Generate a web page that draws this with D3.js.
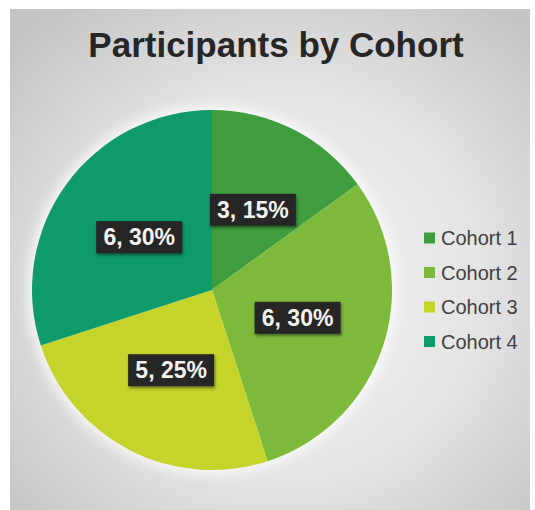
<!DOCTYPE html>
<html>
<head>
<meta charset="utf-8">
<script src="https://cdn.jsdelivr.net/npm/d3@7"></script>
<style>
  body { margin: 0; background: #fff; }
  svg { display: block; }
</style>
</head>
<body>
<svg width="535" height="510"></svg>
<script>
// data
const cohorts = ["Cohort 1", "Cohort 2", "Cohort 3", "Cohort 4"];
const participants = [3, 6, 5, 6];
const colors = ["#3f9d3f", "#7db93b", "#c4d42b", "#0f9a6c"];

const svg = d3.select("svg");
const defs = svg.append("defs");

// background panel gradient
const bg = defs.append("radialGradient")
  .attr("id", "bg")
  .attr("cx", "52%").attr("cy", "55%").attr("r", "70%");
bg.append("stop").attr("offset", "0%").attr("stop-color", "#f6f6f6");
bg.append("stop").attr("offset", "55%").attr("stop-color", "#e4e4e4");
bg.append("stop").attr("offset", "100%").attr("stop-color", "#c4c4c4");

const glow = defs.append("filter").attr("id", "glow")
  .attr("x", "-20%").attr("y", "-20%").attr("width", "140%").attr("height", "140%");
glow.append("feGaussianBlur").attr("stdDeviation", 6);

const shadow = defs.append("filter").attr("id", "shadow")
  .attr("x", "-20%").attr("y", "-20%").attr("width", "140%").attr("height", "150%");
shadow.append("feDropShadow").attr("dx", 1).attr("dy", 2).attr("stdDeviation", 1.5)
  .attr("flood-color", "#000").attr("flood-opacity", 0.45);

svg.append("rect")
  .attr("x", 10).attr("y", 9)
  .attr("width", 520).attr("height", 505)
  .attr("fill", "url(#bg)");

// title
svg.append("text")
  .attr("x", 276).attr("y", 57)
  .attr("text-anchor", "middle")
  .attr("font-family", "Liberation Sans, Arial, sans-serif")
  .attr("font-weight", "bold")
  .attr("font-size", 35)
  .attr("fill", "#262626")
  .text("Participants by Cohort");

// pie
const cx = 212, cy = 290, radius = 180;
const total = d3.sum(participants);

const pie = d3.pie().sort(null).value(d => d.value);
const arcs = pie(cohorts.map((c, i) => ({ name: c, value: participants[i], color: colors[i] })));
const arc = d3.arc().innerRadius(0).outerRadius(radius);
const labelArc = d3.arc().innerRadius(radius * 0.5).outerRadius(radius * 0.5);

const g = svg.append("g").attr("transform", `translate(${cx},${cy})`);

g.append("circle")
  .attr("r", radius + 4)
  .attr("fill", "#ffffff")
  .attr("opacity", 0.8)
  .attr("filter", "url(#glow)");

g.selectAll("path")
  .data(arcs)
  .join("path")
  .attr("d", arc)
  .attr("fill", d => d.data.color);

// data labels
const lab = g.selectAll("g.lab")
  .data(arcs)
  .join("g")
  .attr("class", "lab")
  .attr("transform", d => `translate(${labelArc.centroid(d)})`);

lab.append("rect")
  .attr("x", -43).attr("y", -16)
  .attr("width", 86).attr("height", 32)
  .attr("fill", "#262626")
  .attr("filter", "url(#shadow)");

lab.append("text")
  .attr("text-anchor", "middle")
  .attr("y", 8)
  .attr("font-family", "Liberation Sans, Arial, sans-serif")
  .attr("font-weight", "bold")
  .attr("font-size", 23)
  .attr("fill", "#f2f2f2")
  .text(d => `${d.data.value}, ${d3.format(".0%")(d.data.value / total)}`);

// legend
const legendY = d3.scalePoint().domain(cohorts).range([238, 341.5]);

const leg = svg.append("g").selectAll("g")
  .data(cohorts)
  .join("g")
  .attr("transform", d => `translate(424,${legendY(d)})`);

leg.append("rect")
  .attr("x", 0).attr("y", -5.5)
  .attr("width", 11).attr("height", 11)
  .attr("fill", (d, i) => colors[i]);

leg.append("text")
  .attr("x", 17).attr("y", 7)
  .attr("font-family", "Liberation Sans, Arial, sans-serif")
  .attr("font-size", 20)
  .attr("fill", "#404040")
  .text(d => d);
</script>
</body>
</html>
